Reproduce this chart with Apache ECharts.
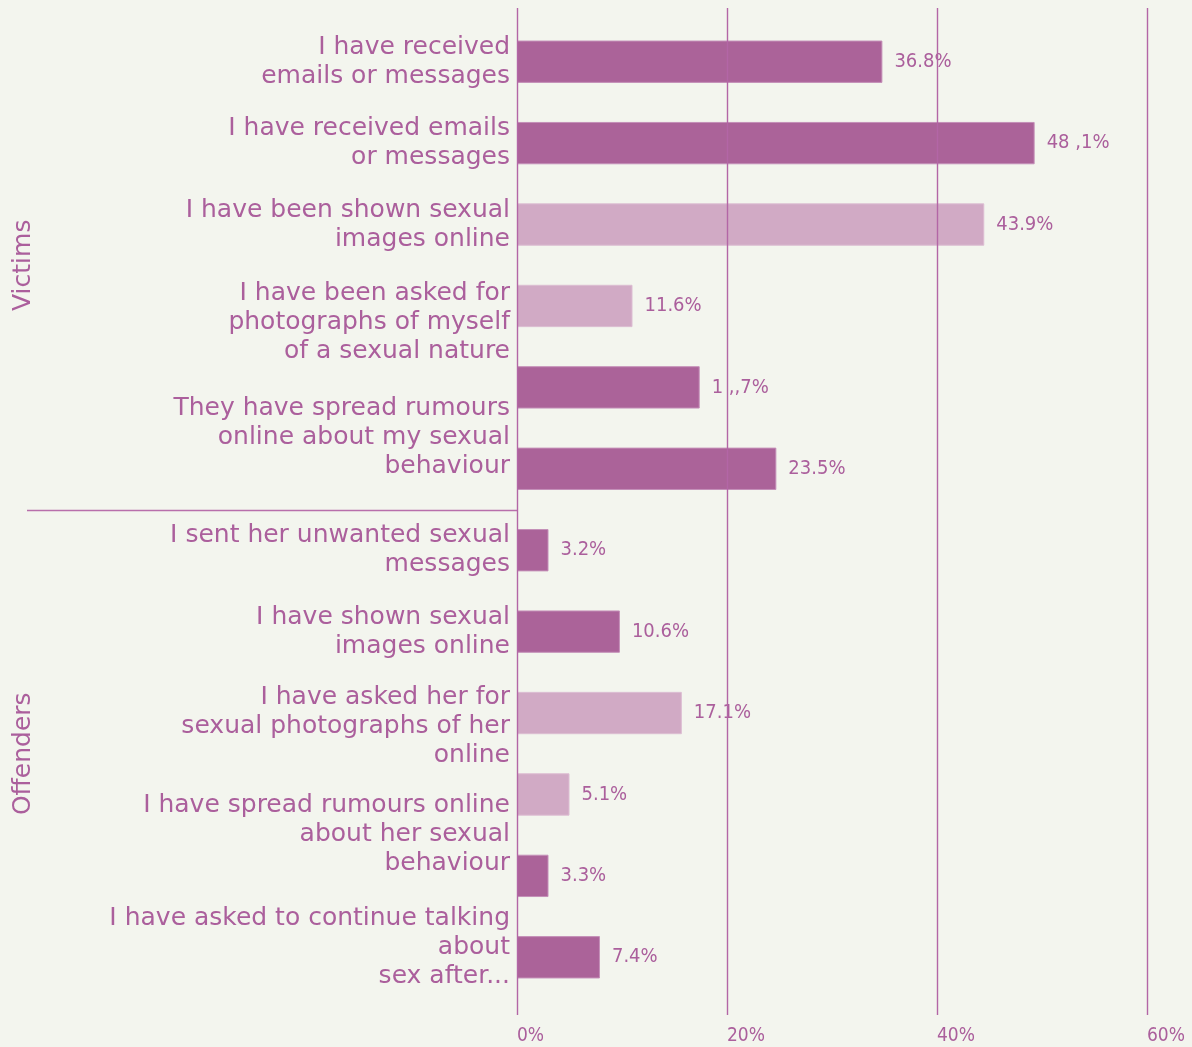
<!DOCTYPE html>
<html><head><meta charset="utf-8">
<script src="https://cdn.jsdelivr.net/npm/echarts@6/dist/echarts.min.js"></script>
<style>html,body{margin:0;padding:0;background:#f3f5ee}#c{width:1192px;height:1047px}</style>
</head><body><div id="c"></div>
<script>
// ---- data ----
const categories = [
  'I have received\nemails or messages',
  'I have received emails\nor messages',
  'I have been shown sexual\nimages online',
  'I have been asked for\nphotographs of myself\nof a sexual nature',
  'They have spread rumours\nonline about my sexual\nbehaviour',
  'I sent her unwanted sexual\nmessages',
  'I have shown sexual\nimages online',
  'I have asked her for\nsexual photographs of her\nonline',
  'I have spread rumours online\nabout her sexual\nbehaviour',
  'I have asked to continue talking\nabout\nsex after...'
];
// which category each bar belongs to (two pairs of bars share one label)
const barCategory = [0, 1, 2, 3, 4, 4, 5, 6, 7, 8, 8, 9];
const values = [34.8, 49.3, 44.5, 11.0, 17.4, 24.7, 3.0, 9.8, 15.7, 5.0, 3.0, 7.9];
const valueLabels = ['36.8%', '48 ,1%', '43.9%', '11.6%', '1 ,,7%', '23.5%', '3.2%', '10.6%', '17.1%', '5.1%', '3.3%', '7.4%'];
const barTone = ['dark', 'dark', 'light', 'light', 'dark', 'dark', 'dark', 'dark', 'light', 'light', 'dark', 'dark'];
const groups = ['Victims', 'Offenders'];
const xTicks = [0, 20, 40, 60];

// ---- style ----
const PURPLE = '#ab5f9c';
const GRIDLINE = '#b366a6';
const TONES = { dark: '#ab6399', light: '#d1aac5' };
const FONT = '"DejaVu Sans", sans-serif';
const NARROW = '"Liberation Sans Narrow", "DejaVu Sans Condensed", sans-serif';
// vertical nudges (px) of the category labels relative to their bar
const labelShift = [0, 0, 0, 17, 10, 0, 0, 0, 13, 0, 0, -10];

const chart = echarts.init(document.getElementById('c'));
const gridTop = 21, gridBottom = 49;
const band = (1047 - gridTop - gridBottom) / values.length;

const isFirst = i => i === 0 || barCategory[i - 1] !== barCategory[i];
const rich = {};
const spacer = values.map((v, i) => {
  const shared = isFirst(i) && barCategory[i + 1] === barCategory[i];
  const s = labelShift[i] + (shared ? band / 2 : 0);
  if (Math.abs(s) < 0.5) return null;
  rich['sp' + i] = { lineHeight: Math.round(2 * Math.abs(s)), fontSize: 1 };
  return s > 0 ? 'top' : 'bottom';
});

chart.setOption({
  backgroundColor: '#f3f5ee',
  animation: false,
  textStyle: { fontFamily: FONT },
  grid: [
    { left: 517, right: 45, top: gridTop, bottom: gridBottom },
    { left: 517, right: 45, top: 8, bottom: 32 }
  ],
  xAxis: [
    { gridIndex: 0, type: 'value', min: 0, max: 60, show: false },
    {
      gridIndex: 1, type: 'value', min: xTicks[0], max: xTicks[xTicks.length - 1], interval: 20,
      zlevel: 1, z: 10,
      axisLine: { show: false }, axisTick: { show: false },
      splitLine: { show: true, lineStyle: { color: [GRIDLINE], width: 1.4, type: 'solid', opacity: 1 } },
      axisLabel: { color: PURPLE, fontSize: 19, fontFamily: NARROW, align: 'left', margin: 12,
        formatter: v => v + '%' }
    }
  ],
  yAxis: [
    {
      gridIndex: 0, type: 'category', inverse: true, data: values.map((v, i) => 'bar' + i),
      axisLine: { show: false }, axisTick: { show: false },
      axisLabel: {
        color: PURPLE, fontSize: 25, lineHeight: 29, fontFamily: FONT, margin: 7, align: 'right',
        rich: rich,
        formatter: (v, idx) => {
          if (!isFirst(idx)) return '';
          const t = categories[barCategory[idx]];
          if (spacer[idx] === 'top') return '{sp' + idx + '| }\n' + t;
          if (spacer[idx] === 'bottom') return t + '\n{sp' + idx + '| }';
          return t;
        }
      }
    },
    {
      gridIndex: 0, type: 'category', inverse: true, data: groups, position: 'left', offset: 475,
      axisLine: { show: false }, axisTick: { show: false },
      axisLabel: { color: PURPLE, fontSize: 25, fontFamily: FONT, rotate: 90, margin: 6 }
    },
    { gridIndex: 1, type: 'value', show: false, min: 0, max: 1 }
  ],
  series: [{
    type: 'bar', xAxisIndex: 0, yAxisIndex: 0, barWidth: '52%', z: 2,
    data: values.map((v, i) => ({
      value: v,
      itemStyle: { color: TONES[barTone[i]], borderColor: barTone[i] === 'dark' ? '#c48fb8' : '#dcbdd2', borderWidth: 1 }
    })),
    label: {
      show: true, position: 'right', distance: 12, color: PURPLE, fontSize: 20, fontFamily: NARROW,
      formatter: p => valueLabels[p.dataIndex]
    }
  }]
});

// separator between the two groups
const yV = chart.convertToPixel({ yAxisIndex: 1 }, groups[0]);
const yO = chart.convertToPixel({ yAxisIndex: 1 }, groups[1]);
const x0 = chart.convertToPixel({ xAxisIndex: 0 }, 0);
const ySep = Math.round((yV + yO) / 2) + 0.5;
chart.setOption({
  graphic: [{ type: 'line', shape: { x1: 27, y1: ySep, x2: x0, y2: ySep }, style: { stroke: '#b86fab', lineWidth: 1.5 } }]
});
</script></body></html>
